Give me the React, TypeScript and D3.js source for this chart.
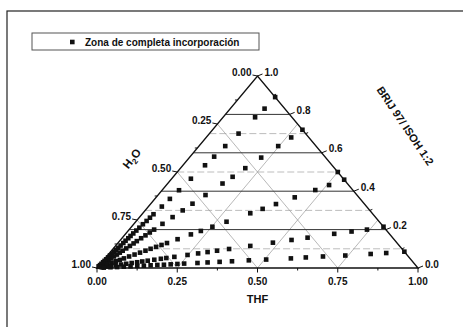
import React from "react";
import * as d3 from "d3";

// ternary values: [THF, BRIJ 97/ISOH], water = 1 - THF - BRIJ
const rayA: [number, number][] = [
  [0.11, 0.89], [0.107, 0.83], [0.1, 0.785], [0.091, 0.7], [0.082, 0.635], [0.075, 0.58],
  [0.069, 0.535], [0.06, 0.465], [0.053, 0.405], [0.047, 0.36], [0.042, 0.32], [0.036, 0.28],
  [0.034, 0.262], [0.032, 0.245], [0.029, 0.228], [0.027, 0.21], [0.025, 0.195], [0.023, 0.18],
  [0.021, 0.167], [0.02, 0.155], [0.018, 0.142], [0.017, 0.13], [0.015, 0.117], [0.014, 0.105],
  [0.012, 0.095], [0.011, 0.085], [0.01, 0.075], [0.008, 0.065], [0.007, 0.055], [0.006, 0.045],
  [0.005, 0.037], [0.004, 0.03], [0.003, 0.022], [0.002, 0.015], [0.001, 0.008],
];
const rayB: [number, number][] = [
  [0.28, 0.72], [0.265, 0.68], [0.247, 0.635], [0.224, 0.575], [0.202, 0.52], [0.185, 0.475],
  [0.171, 0.44], [0.148, 0.38], [0.13, 0.335], [0.117, 0.3], [0.103, 0.265], [0.089, 0.23],
  [0.078, 0.2], [0.072, 0.185], [0.066, 0.17], [0.06, 0.155], [0.054, 0.14], [0.05, 0.128],
  [0.045, 0.115], [0.04, 0.102], [0.035, 0.09], [0.031, 0.08], [0.027, 0.07], [0.023, 0.06],
  [0.019, 0.05], [0.016, 0.04], [0.012, 0.03], [0.009, 0.022], [0.006, 0.015], [0.003, 0.008],
];
const rayC: [number, number][] = [
  [0.5, 0.5], [0.54, 0.46], [0.507, 0.432], [0.477, 0.406], [0.432, 0.368], [0.391, 0.333],
  [0.362, 0.308], [0.335, 0.285], [0.283, 0.241], [0.252, 0.215], [0.227, 0.193], [0.205, 0.175],
  [0.176, 0.15], [0.153, 0.13], [0.141, 0.12], [0.129, 0.11], [0.117, 0.1], [0.106, 0.09],
  [0.094, 0.08], [0.082, 0.07], [0.07, 0.06], [0.059, 0.05], [0.05, 0.042], [0.041, 0.035],
  [0.032, 0.027], [0.023, 0.02], [0.014, 0.012], [0.007, 0.006],
];
const rayD: [number, number][] = [
  [0.785, 0.215], [0.741, 0.2], [0.698, 0.19], [0.65, 0.178], [0.577, 0.158], [0.533, 0.146],
  [0.482, 0.132], [0.42, 0.115], [0.362, 0.099], [0.329, 0.09], [0.303, 0.083], [0.277, 0.076],
  [0.248, 0.068], [0.212, 0.058], [0.19, 0.052], [0.175, 0.048], [0.157, 0.043], [0.139, 0.038],
  [0.124, 0.034], [0.11, 0.03], [0.095, 0.026], [0.08, 0.022], [0.066, 0.018], [0.051, 0.014],
  [0.038, 0.01], [0.026, 0.007], [0.013, 0.004],
];
const rayE: [number, number][] = [
  [0.915, 0.085], [0.862, 0.078], [0.816, 0.073], [0.741, 0.065], [0.674, 0.06], [0.623, 0.055],
  [0.579, 0.05], [0.505, 0.044], [0.453, 0.04], [0.403, 0.035], [0.366, 0.032], [0.33, 0.029],
  [0.3, 0.026], [0.26, 0.023], [0.24, 0.021], [0.22, 0.019], [0.2, 0.017], [0.18, 0.016],
  [0.16, 0.014], [0.14, 0.012], [0.12, 0.011], [0.1, 0.009], [0.08, 0.007], [0.06, 0.005],
  [0.04, 0.004], [0.02, 0.002],
];

const bottomTicks = ["0.00", "0.25", "0.50", "0.75", "1.00"];
const leftTicks = ["0.00", "0.25", "0.50", "0.75", "1.00"];
const rightTicks = ["0.0", "0.2", "0.4", "0.6", "0.8", "1.0"];
const solidLevels = [0.2, 0.4, 0.6, 0.8];
const dashedLevels = [0.1, 0.3, 0.5, 0.7];
const diagLevels = [0.25, 0.5, 0.75];

const W = 463;
const H = 327;
const font = "'Liberation Sans', Arial, sans-serif";

export default function App() {
  // base coordinate (THF + BRIJ/2) and height (BRIJ)
  const x = d3.scaleLinear().domain([0, 1]).range([97, 418]);
  const y = d3.scaleLinear().domain([0, 1]).range([268, 76]);
  const P = (thf: number, brij: number): [number, number] => [x(thf + brij / 2), y(brij)];
  const line = (p: [number, number], q: [number, number]) =>
    d3.line()([p, q]) as string;

  const points = [...rayA, ...rayB, ...rayC, ...rayD, ...rayE];
  const sq = 4.6;

  return (
    <svg width={W} height={H} style={{ position: "absolute", left: 0, top: 0, background: "#fff" }}>
      {/* outer frame */}
      <rect x={7} y={11} width={470} height={340} fill="none" stroke="#222" strokeWidth={1.2} />

      {/* legend */}
      <rect x={32} y={33} width={227} height={17} fill="#fff" stroke="#555" strokeWidth={1} />
      <rect x={70} y={39.7} width={sq} height={sq} fill="#111" />
      <text x={85} y={45.6} fontFamily={font} fontWeight="bold" fontSize={10} fill="#111">
        Zona de completa incorporación
      </text>

      {/* dashed horizontal levels */}
      {dashedLevels.map((c) => (
        <path key={"d" + c} d={line(P(0, c), P(1 - c, c))} stroke="#b5b5b5" strokeWidth={0.9}
          strokeDasharray="7,3" fill="none" />
      ))}
      {/* diagonal grid: constant THF and constant H2O */}
      {diagLevels.map((v) => (
        <g key={"g" + v}>
          <path d={line(P(v, 0), P(v, 1 - v))} stroke="#9a9a9a" strokeWidth={0.7} fill="none" />
          <path d={line(P(1 - v, 0), P(0, 1 - v))} stroke="#9a9a9a" strokeWidth={0.7} fill="none" />
        </g>
      ))}
      {/* solid horizontal levels */}
      {solidLevels.map((c) => (
        <path key={"s" + c} d={line(P(0, c), P(1 - c, c))} stroke="#333" strokeWidth={1} fill="none" />
      ))}

      {/* triangle */}
      <path d={(d3.line()([P(0, 0), P(1, 0), P(0, 1)]) as string) + "Z"} fill="none" stroke="#111"
        strokeWidth={1.4} strokeLinejoin="miter" />

      {/* bottom axis (THF) */}
      {d3.range(0, 9).map((i) => {
        const v = i / 8;
        const [px, py] = P(v, 0);
        return <line key={"bt" + i} x1={px} x2={px} y1={py} y2={py + (i % 2 ? 2.5 : 4.5)} stroke="#111" strokeWidth={1} />;
      })}
      {bottomTicks.map((t, i) => {
        const [px, py] = P(i / 4, 0);
        return (
          <text key={"bl" + t} x={px} y={py + 17} textAnchor="middle" fontFamily={font} fontWeight="bold"
            fontSize={10} fill="#111">{t}</text>
        );
      })}
      <text x={x(0.5)} y={303} textAnchor="middle" fontFamily={font} fontWeight="bold" fontSize={11} fill="#111">
        THF
      </text>

      {/* left axis (H2O): 0 at apex, 1 at bottom-left */}
      {leftTicks.map((t, i) => {
        const w = i / 4;
        const [px, py] = P(0, 1 - w);
        return (
          <g key={"ll" + t}>
            <line x1={px} x2={px - 5} y1={py} y2={py - 1} stroke="#111" strokeWidth={1} />
            <text x={px - 6} y={py - 0.5} textAnchor="end" fontFamily={font} fontWeight="bold"
              fontSize={10} fill="#111">{t}</text>
          </g>
        );
      })}
      {d3.range(1, 8, 2).map((i) => {
        const [px, py] = P(0, 1 - i / 8);
        return <line key={"lm" + i} x1={px} x2={px - 2.5} y1={py} y2={py} stroke="#111" strokeWidth={1} />;
      })}
      <text transform={`translate(135,161) rotate(-52)`} textAnchor="middle" fontFamily={font}
        fontWeight="bold" fontSize={11.5} fill="#111">
        H<tspan fontSize={8} dy={3}>2</tspan><tspan dy={-3}>O</tspan>
      </text>

      {/* right axis (BRIJ 97 / ISOH 1:2) */}
      {rightTicks.map((t, i) => {
        const c = i / 5;
        const [px, py] = P(1 - c, c);
        return (
          <g key={"rl" + t}>
            <line x1={px} x2={px + 5} y1={py} y2={py - 2} stroke="#111" strokeWidth={1} />
            <text x={px + 7} y={py - 0.5} fontFamily={font} fontWeight="bold" fontSize={10} fill="#111">{t}</text>
          </g>
        );
      })}
      {d3.range(1, 10, 2).map((i) => {
        const c = i / 10;
        const [px, py] = P(1 - c, c);
        return <line key={"rm" + i} x1={px} x2={px + 2.5} y1={py} y2={py - 1} stroke="#111" strokeWidth={1} />;
      })}
      <text transform={`translate(402,128) rotate(56)`} textAnchor="middle" fontFamily={font}
        fontWeight="bold" fontSize={11} fill="#111">
        BRIJ 97/ ISOH 1:2
      </text>

      {/* data */}
      {points.map(([a, c], i) => {
        const [px, py] = P(a, c);
        return <rect key={"p" + i} x={px - sq / 2} y={py - sq / 2} width={sq} height={sq} fill="#111" />;
      })}
    </svg>
  );
}
